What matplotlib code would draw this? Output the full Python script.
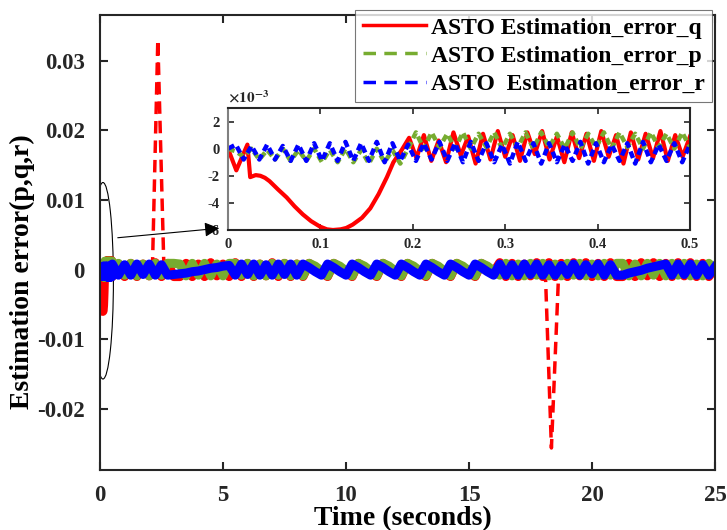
import numpy as np
import matplotlib.pyplot as plt
from matplotlib.lines import Line2D
from matplotlib.patches import Ellipse, FancyArrowPatch

plt.rcParams['font.family'] = ['Liberation Serif', 'DejaVu Serif']
plt.rcParams['font.weight'] = 'bold'
plt.rcParams['mathtext.fontset'] = 'stix'
plt.rcParams['axes.unicode_minus'] = False
plt.rcParams['lines.scale_dashes'] = False

# ---- data (values in units of 1e-4) ----
# zoomed window 0 - 0.5 s
blue_zoom = [0, 3, -8, 2, -8, 3, -8, 2, -9, 3, -9, 4, -9, 4, -9, 5, -9, 4, -9, 5,
             -10, 4, -9, 3, -9, 4, -8, 5, -9, 4, -10, 5, -9, 4, -10, 3, -11, 5, -9, 4,
             -11, 4, -10, 3, -9, 5, -11, 4, -10, 3, -9, 4, -11, 5, -10, 3, -9, 4, -10, 3]
green_zoom = [0, -2, -6, 0, -8, -1, -8, 0, -9, -1, -9, 0, -10, -1, -10, 0, -10, -1, -11, 0,
              -10, -1, -11, 0, 12, 0, 12, 1, 11, 0, 12, 0, 11, 1, 12, 0, 11, 1, 12, 0,
              12, 1, 11, 0, 12, 0, 11, 1, 12, 0, 12, 1, 11, 0, 12, 1, 11, 0, 12, 1]
red_head_t = [0, 0.009, 0.021, 0.024, 0.030, 0.035, 0.040, 0.045, 0.054, 0.0635, 0.072,
              0.081, 0.090, 0.0996, 0.107, 0.1136, 0.122, 0.128, 0.135, 0.145, 0.154,
              0.163, 0.172, 0.179, 0.188]
red_head = [0, -16, 3, -21, -19.5, -20, -21.5, -24, -30, -36, -42.5, -48.5, -53.5, -57.5,
            -59.5, -60, -59.5, -58.5, -56, -51, -44, -33.5, -21, -10, -1]
red_tail = [8, -7, 10, -9, 6, -10, 12, -5, 9, -11, 11, -8, 13, -6, 10, -9, 12, -4, 13, -8,
            9, -10, 12, -7, 11, -9, 13, -6, 10, -11, 12, -8, 11, -7, 13, -9, 10, -6, 9]

# rest of the run 0.5 - 25 s, every 0.25 s
blue_main = ([8, -8, 7, -8, 8, -7, 8, -8, 7, -8, -7]
             + [-6, -5, -3, -2, 0, 2, 3, 5, 6]
             + [-8, 8, -7, 8, -8, 7, -8, 8, -7, 8, -8]
             + [8, 3, -3, -8] * 8
             + [8, -8, 7, -8, 8, -7, 8, -8]
             + [7, -8, 6, -7, 8, -8, 7, -6, 8, -8, 7, -8]
             + [-8, -5, -3, -1, 2, 4, 6, 8]
             + [-8, 8, -7, 8, -8, 7, -8, 4])
green_main = ([-9, 9, -8, 9, -9, 8, -9, 9, -8, 9, 9]
              + [8, -9, 9, -8, 9, -9, 8, -9, 9]
              + [9, -8, 9, -9, 8, -9, 9, -8, 9, -9, 8]
              + [-9, 9, 5, -2] * 8
              + [-8, 9, -9, 8, -9, 9, -8, 9]
              + [-9, 8, -9, 9, -8, 9, -9, 8, -9, 9, -8, 9]
              + [9, -9, 8, -9, 9, -8, 9, -9]
              + [9, -8, 9, -9, 8, -9, 9, -1])
red_main = ([-10, 8, -10, 9, -10, 8, -9, 10, -10, 9, -10]
            + [-10, 9, -10, 8, -10, 10, -9, 8, -10]
            + [10, -10, 9, -10, 8, -9, 10, -10, 9, -10, 8]
            + [-10, 9, 3, -4] * 8
            + [10, -10, 9, -10, 8, -9, 10, -10]
            + [10, -10, 9, -10, 10, -9, 10, -10, 9, -10, 10, -10]
            + [-10, 9, -10, 10, -9, 10, -10, 9]
            + [-10, 10, -9, 10, -10, 9, -10, 2])

# the two large red transients (real units)
spike1_t = [2.13, 2.35, 2.6]
spike1 = [0, 0.033, 0]
spike2_t = [18.1, 18.35, 18.65]
spike2 = [0, -0.0256, 0]

labels = ['ASTO Estimation_error_q', 'ASTO Estimation_error_p', 'ASTO  Estimation_error_r']
RED, GREEN, BLUE = '#ff0000', '#77ac30', '#0000ff'

# ---- assemble series ----
t_zoom = np.linspace(0, 0.5, len(blue_zoom))
t_red_tail = np.linspace(0.196, 0.5, len(red_tail))
t_main = np.linspace(0.5, 25, len(blue_main))

t_red_zoom = np.concatenate([red_head_t, t_red_tail])
red_zoom = np.concatenate([red_head, red_tail]) * 1e-4

t_blue = np.concatenate([t_zoom[:-1], t_main])
blue = np.concatenate([blue_zoom[:-1], blue_main]) * 1e-4
green = np.concatenate([green_zoom[:-1], green_main]) * 1e-4
t_red = np.concatenate([t_red_zoom[:-1], t_main])
red = np.concatenate([red_zoom[:-1], np.array(red_main) * 1e-4])

fig = plt.figure(figsize=(7.27, 5.30), dpi=100)
ax = fig.add_axes([100 / 727, 60 / 530, 615 / 727, 455 / 530])

dash = (9, 5)
ax.plot(spike1_t, spike1, color=RED, lw=2.5, dashes=dash)
ax.plot(spike2_t, spike2, color=RED, lw=2.5, dashes=dash)
ax.plot(t_red, red, color=RED, lw=6.5)
ax.plot(t_blue, green, color=GREEN, lw=6.5)
ax.plot(t_blue, blue, color=BLUE, lw=6.5)

ax.set_xlim(0, 25)
ax.set_ylim(-0.02876, 0.03654)
ax.set_xticks([0, 5, 10, 15, 20, 25])
ax.set_yticks([-0.02, -0.01, 0, 0.01, 0.02, 0.03],
              ['-0.02', '-0.01', '0', '0.01', '0.02', '0.03'])
ax.tick_params(direction='in', length=6, width=1.5, top=True, right=True,
               labelsize=16.5, pad=11, colors='#262626')
for s in ax.spines.values():
    s.set_linewidth(1.5)
    s.set_color('#262626')

ax.set_xlabel('Time (seconds)', fontsize=20, fontweight='bold')
ax.xaxis.set_label_coords(0.492, -0.08)
ax.set_ylabel('Estimation error(p,q,r)', fontsize=20, fontweight='bold')
ax.yaxis.set_label_coords(-0.106, 0.436)

# ellipse marking the zoomed region
ax.add_patch(Ellipse((0.12, -0.0016), 0.85, 0.0282, fill=False, ec='black', lw=0.8))

handles = [Line2D([], [], color=RED, lw=2.5),
           Line2D([], [], color=GREEN, lw=2.5, dashes=(9, 6)),
           Line2D([], [], color=BLUE, lw=2.5, dashes=(9, 6))]
leg = ax.legend(handles, labels, loc='upper right', bbox_to_anchor=(712 / 727, 520 / 530),
                bbox_transform=fig.transFigure, fontsize=17, frameon=True,
                fancybox=False, borderaxespad=0, borderpad=0.3, labelspacing=0.28,
                handlelength=2.7, handletextpad=0.2)
leg.get_frame().set_edgecolor('#555555')
leg.get_frame().set_linewidth(0.8)
leg.set_zorder(10)

# ---- inset ----
ax_in = fig.add_axes([228 / 727, 300 / 530, 462 / 727, 122 / 530])
ax_in.plot(t_red_zoom, red_zoom * 1e3, color=RED, lw=3)
ax_in.plot(t_zoom, np.array(green_zoom) * 0.1, color=GREEN, lw=3.2, dashes=(5, 3))
ax_in.plot(t_zoom, np.array(blue_zoom) * 0.1, color=BLUE, lw=3.2, dashes=(5, 3))
ax_in.set_xlim(0, 0.5)
ax_in.set_ylim(-6, 3)
ax_in.set_xticks([0, 0.1, 0.2, 0.3, 0.4, 0.5], ['0', '0.1', '0.2', '0.3', '0.4', '0.5'])
ax_in.set_yticks([-6, -4, -2, 0, 2])
ax_in.tick_params(direction='in', length=4, width=1.2, top=True, right=True,
                  labelsize=10.5, pad=6, colors='#262626')
for s in ax_in.spines.values():
    s.set_linewidth(1.5)
    s.set_color('#262626')
ax_in.spines['left'].set_color('#808080')
ax_in.text(0, 1.02, r'$\times10^{-3}$', transform=ax_in.transAxes, fontsize=11,
           va='bottom', ha='left', color='#262626')

# arrow from the ellipse to the inset
fig.add_artist(FancyArrowPatch((115 / 727, 292 / 530), (222 / 727, 302 / 530),
                               transform=fig.transFigure, arrowstyle='-|>',
                               mutation_scale=22, color='black', lw=0.8, zorder=20))

fig.savefig('out.png', dpi=100)
